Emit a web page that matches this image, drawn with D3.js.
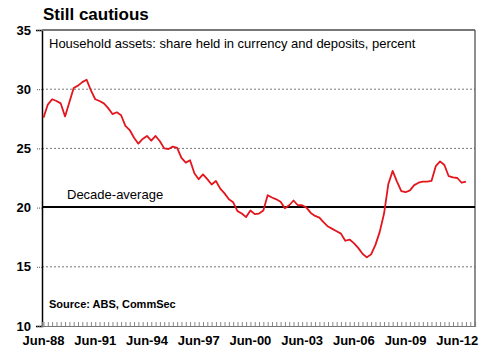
<!DOCTYPE html>
<html>
<head>
<meta charset="utf-8">
<script src="https://cdn.jsdelivr.net/npm/d3@7"></script>
<style>
  body { margin: 0; background: #fff; }
  svg { font-family: "Liberation Sans", Arial, sans-serif; }
</style>
</head>
<body>
<div id="chart"></div>
<script>
// quarterly, starting Jun-88
const startYear = 1988.5;
const shares = [
  27.6, 28.7, 29.15, 29.0, 28.8, 27.7, 28.9, 30.1, 30.3, 30.6,
  30.8, 29.9, 29.15, 29.0, 28.8, 28.4, 27.9, 28.05, 27.8, 26.9,
  26.55, 25.9, 25.4, 25.8, 26.05, 25.65, 26.05, 25.6, 25.0, 24.95,
  25.15, 25.05, 24.2, 23.8, 24.0, 22.9, 22.4, 22.8, 22.4, 21.95,
  22.25, 21.6, 21.2, 20.7, 20.45, 19.7, 19.5, 19.2, 19.75, 19.45,
  19.5, 19.75, 21.05, 20.85, 20.7, 20.5, 19.95, 20.2, 20.6, 20.2,
  20.2, 20.0, 19.55, 19.3, 19.15, 18.75, 18.4, 18.2, 18.0, 17.8,
  17.2, 17.3, 17.0, 16.6, 16.1, 15.8, 16.05, 16.85, 17.95, 19.5,
  22.0, 23.1, 22.2, 21.4, 21.3, 21.45, 21.9, 22.1, 22.2, 22.2,
  22.25, 23.5, 23.9, 23.6, 22.65, 22.55, 22.5, 22.1, 22.2
];
const decadeAverage = 20.05;
const yTicks = [10, 15, 20, 25, 30, 35];
const xTickYears = [1988, 1991, 1994, 1997, 2000, 2003, 2006, 2009, 2012];

const W = 487, H = 354;
const plot = { left: 42, right: 475, top: 30, bottom: 326 };

const svg = d3.select("#chart").append("svg")
  .attr("width", W).attr("height", H);

const x = d3.scaleLinear().domain([-0.35, 100.1]).range([plot.left, plot.right]);
const y = d3.scaleLinear().domain([10, 35]).range([plot.bottom, plot.top]);

// title
svg.append("text")
  .attr("x", 43).attr("y", 20)
  .style("font-size", "17px").style("font-weight", "bold")
  .text("Still cautious");

// dotted gridlines
svg.append("g")
  .selectAll("line")
  .data(yTicks.filter(d => d > 10 && d < 35 && d !== 20))
  .join("line")
  .attr("x1", plot.left).attr("x2", plot.right)
  .attr("y1", d => y(d)).attr("y2", d => y(d))
  .attr("stroke", "#777").attr("stroke-width", 1)
  .attr("stroke-dasharray", "2,2");

// y axis with outer dotted ticks
const yAxis = svg.append("g")
  .attr("transform", `translate(${plot.left},0)`)
  .call(d3.axisLeft(y).tickValues(yTicks).tickSize(6).tickPadding(5));
yAxis.select(".domain").attr("stroke", "#000").attr("stroke-width", 1.5);
yAxis.selectAll(".tick line").attr("stroke", "#555").attr("stroke-dasharray", "1,1");
yAxis.selectAll("text")
  .style("font-size", "13px").style("font-weight", "bold")
  .attr("fill", "#000");

// frame top/right
svg.append("line")
  .attr("x1", plot.left).attr("x2", plot.right).attr("y1", plot.top).attr("y2", plot.top)
  .attr("stroke", "#777").attr("stroke-width", 2);
svg.append("line")
  .attr("x1", plot.right).attr("x2", plot.right).attr("y1", plot.top).attr("y2", plot.bottom)
  .attr("stroke", "#444").attr("stroke-width", 1.2);

// bottom axis: quarterly minor ticks pointing up
const xAxis = svg.append("g")
  .attr("transform", `translate(0,${plot.bottom})`)
  .call(d3.axisBottom(x).tickValues(d3.range(0, 101)).tickSize(-4).tickFormat(""));
xAxis.select(".domain").attr("stroke", "#777").attr("stroke-width", 1.2);
xAxis.selectAll(".tick line").attr("stroke", "#888");

svg.append("g")
  .selectAll("text")
  .data(xTickYears)
  .join("text")
  .attr("x", d => x((d + 0.5 - startYear) * 4))
  .attr("y", 345)
  .attr("text-anchor", "middle")
  .style("font-size", "13px").style("font-weight", "bold")
  .text(d => "Jun-" + String(d % 100).padStart(2, "0"));

// decade average
svg.append("line")
  .attr("x1", plot.left).attr("x2", plot.right)
  .attr("y1", y(decadeAverage)).attr("y2", y(decadeAverage))
  .attr("stroke", "#000").attr("stroke-width", 2);
svg.append("text")
  .attr("x", 67).attr("y", 199)
  .style("font-size", "13px")
  .text("Decade-average");

// subtitle and source
svg.append("text")
  .attr("x", 49).attr("y", 48)
  .style("font-size", "13px")
  .text("Household assets: share held in currency and deposits, percent");
svg.append("text")
  .attr("x", 49).attr("y", 308)
  .style("font-size", "11px").style("font-weight", "bold")
  .text("Source: ABS, CommSec");

// series
const line = d3.line()
  .x((d, i) => x(i))
  .y(d => y(d));
svg.append("path")
  .datum(shares)
  .attr("fill", "none")
  .attr("stroke", "#e3151d")
  .attr("stroke-width", 1.8)
  .attr("stroke-linejoin", "round")
  .attr("d", line);
</script>
</body>
</html>
